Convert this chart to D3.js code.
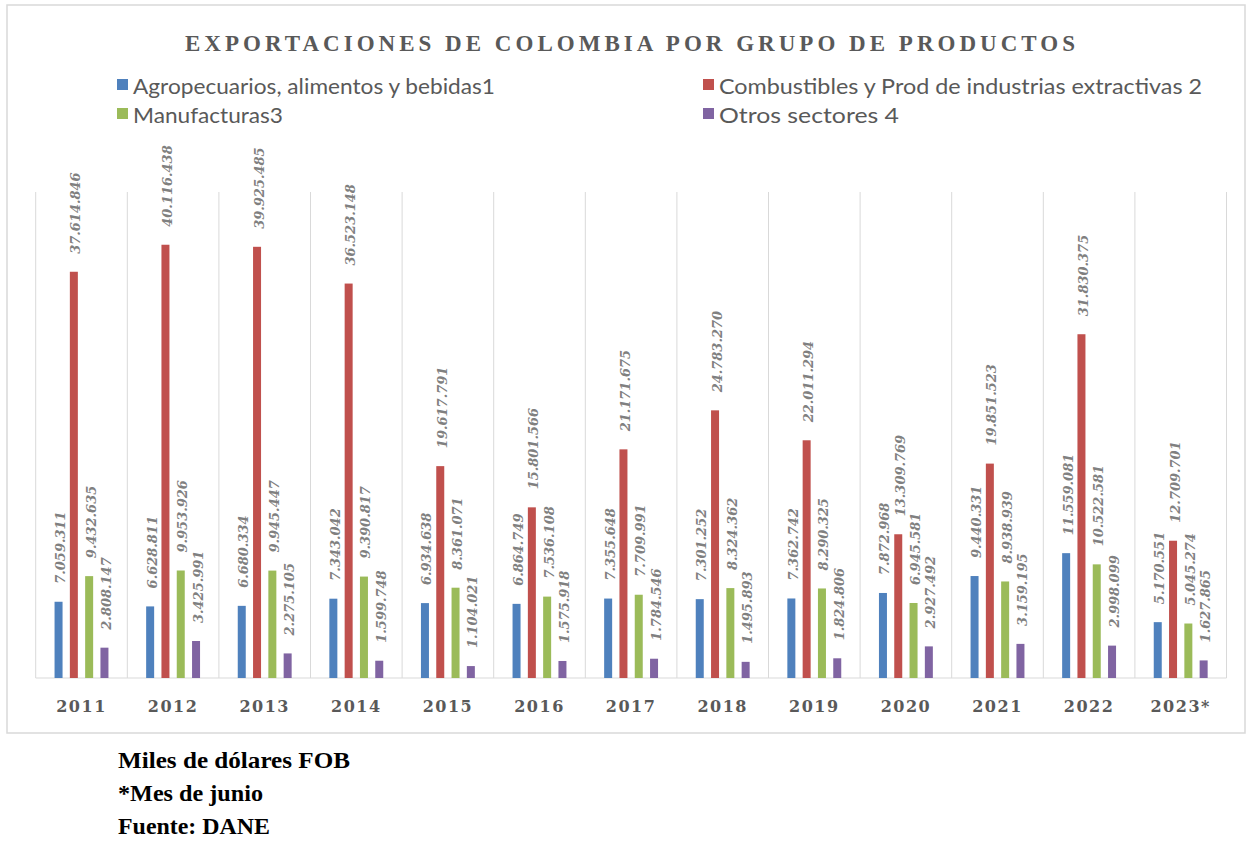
<!DOCTYPE html>
<html><head><meta charset="utf-8">
<script src="https://cdn.jsdelivr.net/npm/d3@7"></script>
<style>html,body{margin:0;padding:0;background:#fff;}svg{display:block;}</style>
</head><body>
<svg id="chart" width="1248" height="841"></svg>
<script>
const years = ["2011","2012","2013","2014","2015","2016","2017","2018","2019","2020","2021","2022","2023*"];
const seriesNames = ["Agropecuarios, alimentos y bebidas1","Combustibles y Prod de industrias extractivas 2","Manufacturas3","Otros sectores 4"];
const agro  = [7059311,6628811,6680334,7343042,6934638,6864749,7355648,7301252,7362742,7872968,9440331,11559081,5170551];
const comb  = [37614846,40116438,39925485,36523148,19617791,15801566,21171675,24783270,22011294,13309769,19851523,31830375,12709701];
const manuf = [9432635,9953926,9945447,9390817,8361071,7536108,7709991,8324362,8290325,6945581,8938939,10522581,5045274];
const otros = [2808147,3425991,2275105,1599748,1104021,1575918,1784546,1495893,1824806,2927492,3159195,2998099,1627865];
const colors = ["#4f81bd","#c0504d","#9bbb59","#8064a2"];
const title = "EXPORTACIONES DE COLOMBIA POR GRUPO DE PRODUCTOS";
const notes = ["Miles de dólares FOB","*Mes de junio","Fuente: DANE"];

(function(){
const series = [agro, comb, manuf, otros];
const svg = d3.select("#chart");

svg.append("rect").attr("x",7).attr("y",5).attr("width",1238).attr("height",728)
  .attr("fill","#fff").attr("stroke","#d9d9d9").attr("stroke-width",1.5);

svg.append("text").attr("x",630).attr("y",51).attr("text-anchor","middle")
  .attr("font-family","Liberation Serif").attr("font-weight","bold").attr("font-size",23)
  .attr("fill","#595959").attr("textLength",890).attr("lengthAdjust","spacing").text(title);

const legPos = [[117,85],[703,85],[117,114],[703,114]];
const legW = [362,483,150,180];
seriesNames.forEach((n,i)=>{
  const g = svg.append("g").attr("transform",`translate(${legPos[i][0]},${legPos[i][1]})`);
  g.append("rect").attr("x",0).attr("y",-6).attr("width",11).attr("height",11).attr("fill",colors[i]);
  g.append("text").attr("x",16).attr("y",0).attr("dominant-baseline","central")
    .attr("font-family","Lato").attr("font-size",21).attr("fill","#595959")
    .attr("textLength",legW[i]).attr("lengthAdjust","spacingAndGlyphs").text(n);
});

const pLeft = 35.7, pRight = 1226.5, pTop = 192, pBase = 678;
const x = d3.scaleBand().domain(years).range([pLeft,pRight]).paddingInner(0).paddingOuter(0);
const y = d3.scaleLinear().domain([0,45000000]).range([pBase,pTop]);

const bounds = years.map(d=>x(d)).concat([pRight]);
svg.append("g").selectAll("line").data(bounds).join("line")
  .attr("x1",d=>d).attr("x2",d=>d).attr("y1",pTop).attr("y2",pBase)
  .attr("stroke","#d9d9d9").attr("stroke-width",1);
svg.append("line").attr("x1",pLeft).attr("x2",pRight).attr("y1",pBase).attr("y2",pBase)
  .attr("stroke","#d9d9d9").attr("stroke-width",1.2);

const step = 15.3, bw = 8;
const fmt = v => d3.format(",")(v).replace(/,/g,".");

series.forEach((arr,si)=>{
  const g = svg.append("g");
  const cx = d => x(years[d.i]) + x.bandwidth()/2 + (si-1.5)*step;
  const data = arr.map((v,i)=>({v,i}));
  g.selectAll("rect").data(data).join("rect")
    .attr("x",d=>cx(d)-bw/2).attr("width",bw)
    .attr("y",d=>y(d.v)).attr("height",d=>pBase-y(d.v)).attr("fill",colors[si]);
  g.selectAll("text").data(data).join("text")
    .attr("transform",d=>`translate(${cx(d)+2},${y(d.v)-18}) rotate(-90)`)
    .attr("dominant-baseline","central").attr("text-anchor","start")
    .attr("font-family","DejaVu Serif").attr("font-weight","bold").attr("font-style","italic")
    .attr("font-size",13).attr("fill","#808080").text(d=>fmt(d.v));
});

svg.append("g").selectAll("text").data(years).join("text")
  .attr("x",d=>x(d)+x.bandwidth()/2).attr("y",712).attr("text-anchor","middle")
  .attr("font-family","DejaVu Serif").attr("font-weight","bold").attr("font-size",16)
  .attr("letter-spacing",1.5).attr("fill","#595959").text(d=>d);

const noteW = [232,145,152];
notes.forEach((t,i)=>{
  svg.append("text").attr("x",118).attr("y",768+i*33)
    .attr("font-family","Liberation Serif").attr("font-weight","bold").attr("font-size",23)
    .attr("fill","#000").attr("textLength",noteW[i]).attr("lengthAdjust","spacingAndGlyphs").text(t);
});
})();
</script>
</body></html>
